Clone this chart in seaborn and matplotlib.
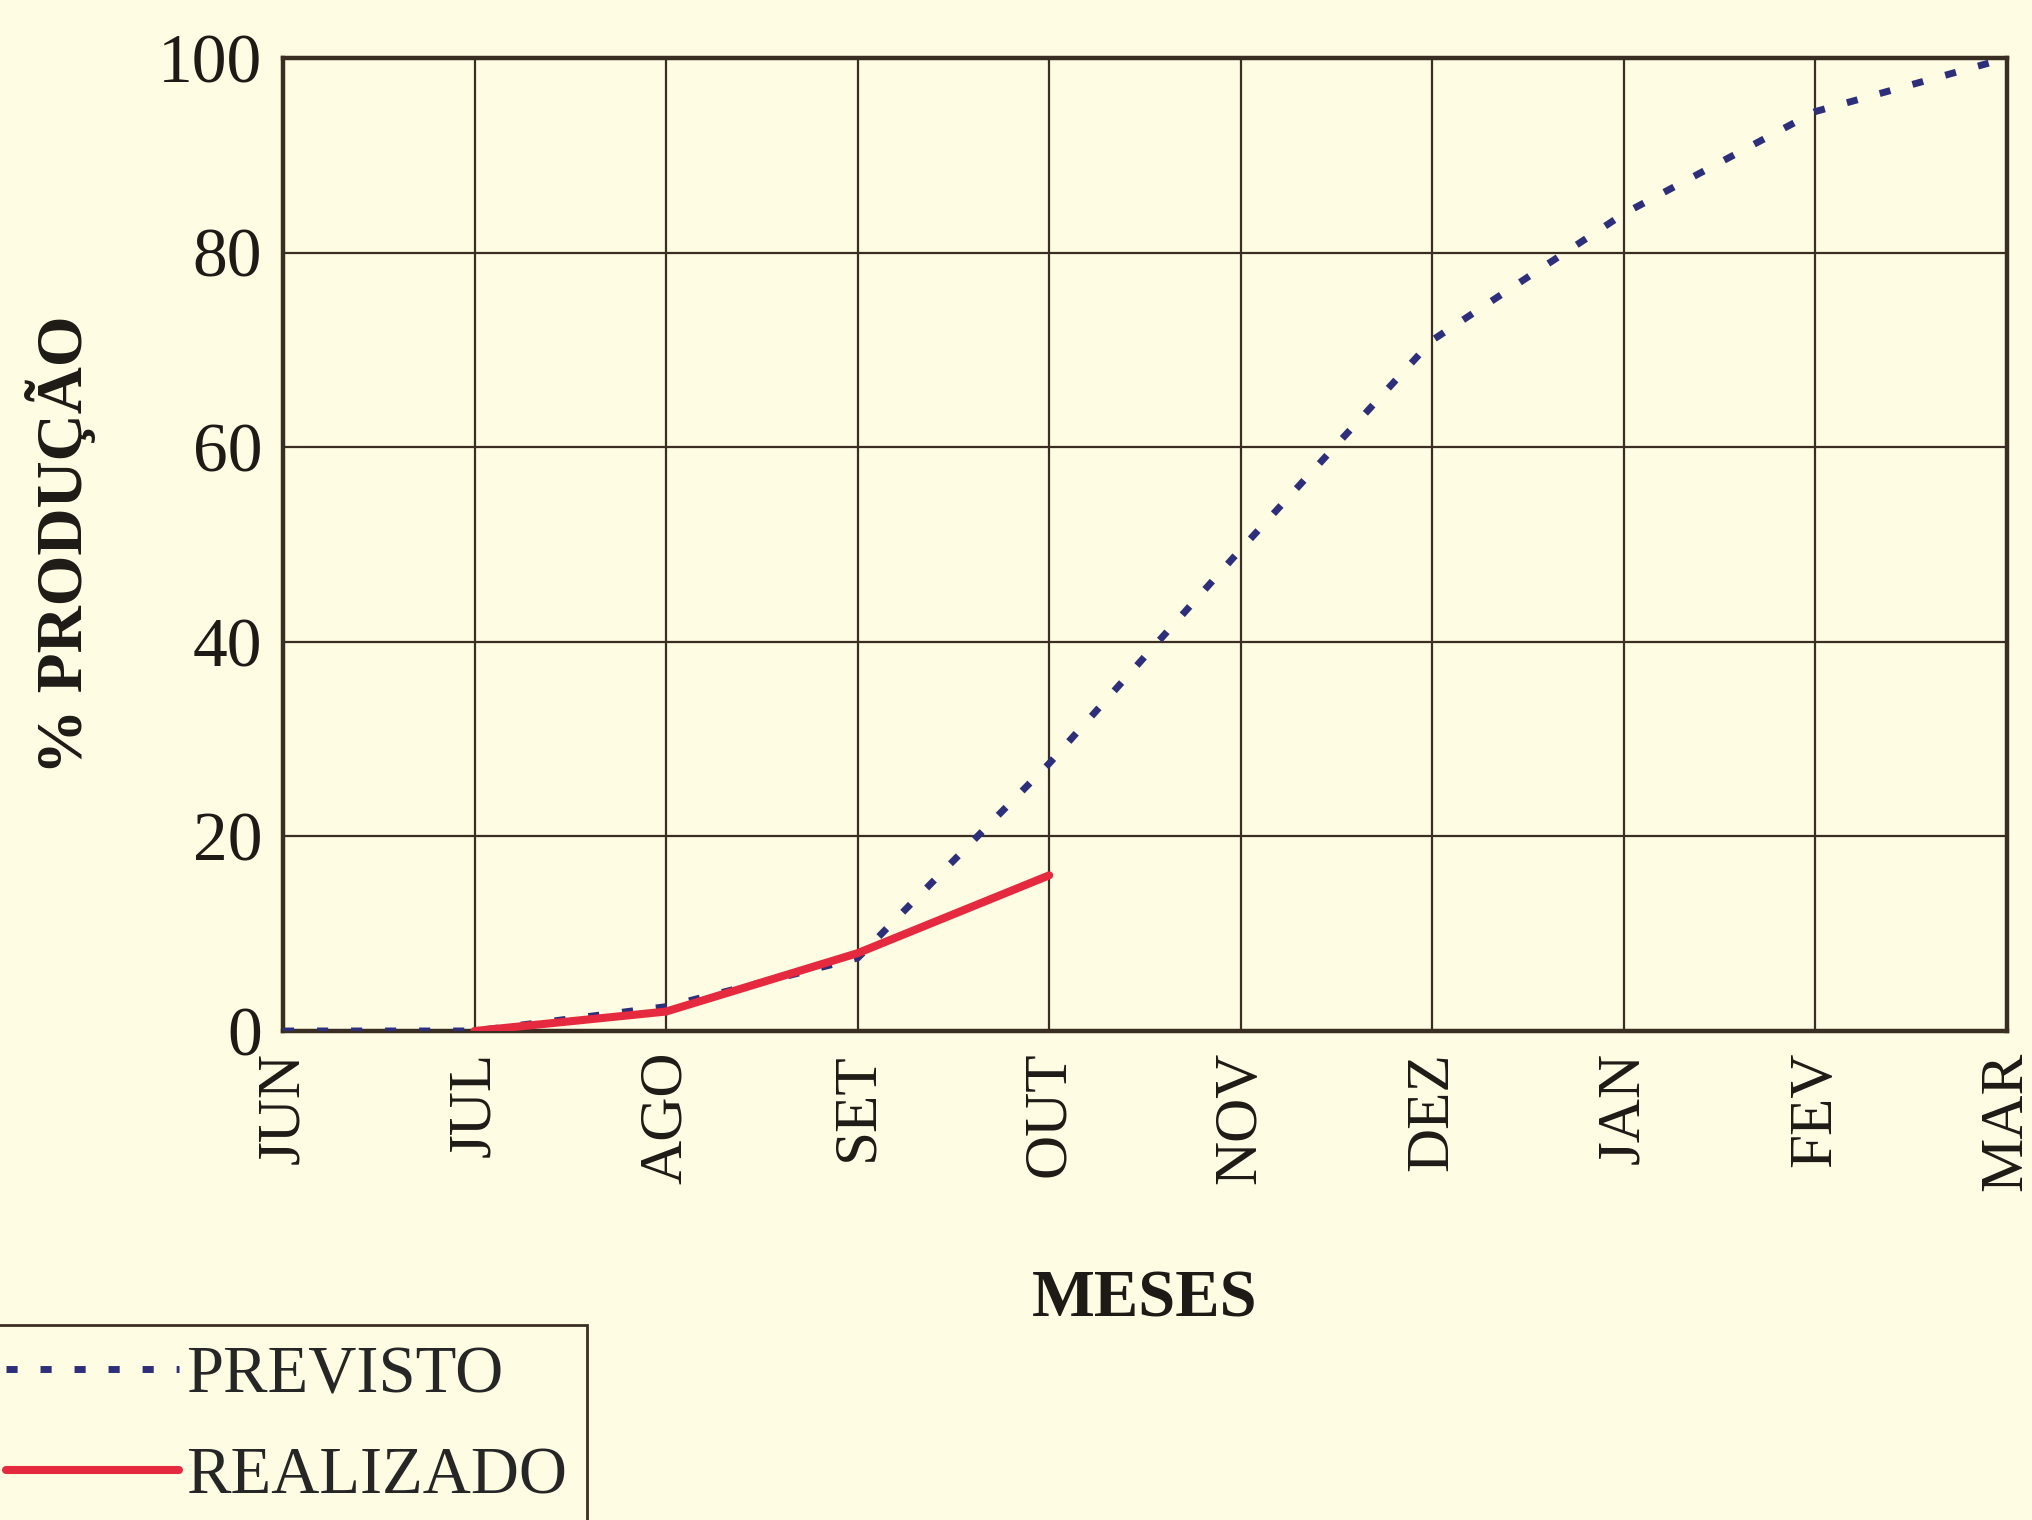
import numpy as np
import matplotlib
matplotlib.use("Agg")
import matplotlib.pyplot as plt
import seaborn as sns
import pandas as pd

# dados
meses = ["JUN", "JUL", "AGO", "SET", "OUT", "NOV", "DEZ", "JAN", "FEV", "MAR"]
previsto = [0, 0, 2.5, 7.5, 27.5, 49.5, 71, 84, 94.5, 100]
realizado = [0, 2, 8, 16]
realizado_meses = ["JUL", "AGO", "SET", "OUT"]

sns.set_style("white")
plt.rcParams['font.family'] = ['Liberation Serif', 'DejaVu Serif']

bg = "#FEFCE2"
frame = "#3A2E22"
txt = "#1E1A16"

df_prev = pd.DataFrame({"x": np.arange(len(meses)), "y": previsto})
df_real = pd.DataFrame({"x": [meses.index(m) for m in realizado_meses], "y": realizado})

fig = plt.figure(figsize=(20.33, 15.2), dpi=100, facecolor=bg)
ax = fig.add_axes([283/2033, 1-1031/1520, (2007-283)/2033, (1031-58)/1520])
ax.set_facecolor(bg)

sns.lineplot(data=df_prev, x="x", y="y", ax=ax, color="#2E2F7A", linewidth=5.0,
             linestyle=(0, (1.6, 3.3)), label="PREVISTO", zorder=4)
sns.lineplot(data=df_real, x="x", y="y", ax=ax, color="#E52A3F", linewidth=5.8,
             label="REALIZADO", zorder=5)

ax.set_xlim(0, len(meses)-1)
ax.set_ylim(0, 100)
ax.set_xticks(np.arange(len(meses)))
ax.set_xticklabels(meses, rotation=90, fontsize=44)
ax.set_yticks(np.arange(0, 101, 20))
ax.set_yticklabels([str(v) for v in range(0, 101, 20)], fontsize=50)
ax.grid(True, color=frame, linewidth=1.6, zorder=1)
ax.set_axisbelow(True)
for s in ax.spines.values():
    s.set_color(frame)
    s.set_linewidth(3.2)
ax.tick_params(axis="both", direction="out", length=12, width=1.6, color=frame,
               labelcolor=txt, pad=3)

ax.set_xlabel("MESES", fontsize=48, fontweight="bold", color=txt, va="center")
ax.xaxis.set_label_coords(0.5, -0.2765)
ax.set_ylabel("% PRODUÇÃO", fontsize=47, fontweight="bold", color=txt, va="center")
ax.yaxis.set_label_coords(-0.1288, 0.5)

leg = ax.legend(loc="upper left", bbox_to_anchor=(-14/2033, 1-1325/1520),
                bbox_transform=fig.transFigure, fontsize=48, frameon=True,
                fancybox=False, edgecolor=frame, facecolor=bg, framealpha=1,
                handlelength=2.6, handletextpad=0.1, borderpad=0.3, labelspacing=0.6,
                borderaxespad=0)
leg.get_frame().set_linewidth(2)

fig.savefig("out.png", dpi=100, facecolor=bg)
